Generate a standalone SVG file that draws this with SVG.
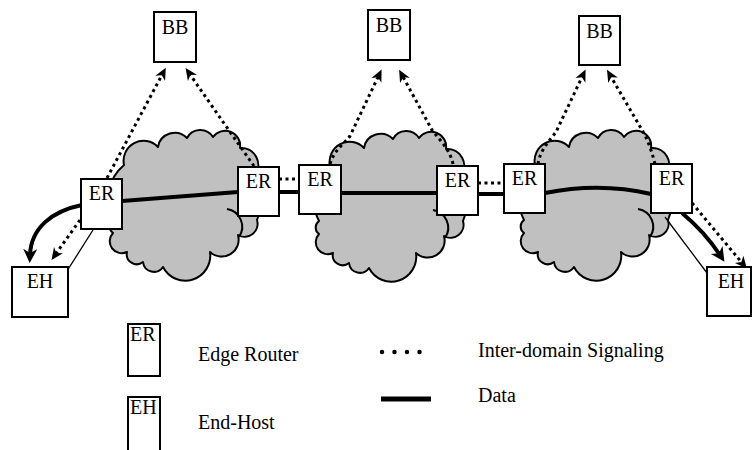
<svg xmlns="http://www.w3.org/2000/svg" width="752" height="450" viewBox="0 0 752 450">
<style>
.box{fill:#fff;stroke:#000;stroke-width:2}
.cloud{fill:#c0c0c0;stroke:#000;stroke-width:2;stroke-linejoin:round}
.inner{fill:none;stroke:#000;stroke-width:2}
.data{fill:none;stroke:#000;stroke-width:4}
.sig{fill:none;stroke:#000;stroke-width:3;stroke-dasharray:3 3.5}
.thin{fill:none;stroke:#000;stroke-width:1.3}
text{font-family:"Liberation Serif","Times New Roman",serif;font-size:20px;fill:#000}
.lbl{text-anchor:middle}
</style>
<defs>
<marker id="ah" markerUnits="userSpaceOnUse" viewBox="-13 -7 14 14" refX="-6" refY="0" markerWidth="14" markerHeight="14" orient="auto">
<path d="M0,0 L-12,-5.5 L-8.5,0 L-12,5.5 Z" fill="#000"/>
</marker>
<marker id="ahb" markerUnits="userSpaceOnUse" viewBox="-15 -8 16 16" refX="-8" refY="0" markerWidth="16" markerHeight="16" orient="auto">
<path d="M0,0 L-14,-7 L-10,0 L-14,7 Z" fill="#000"/>
</marker>
<g id="cloudShape">
<path class="cloud" d="M14,37 A20,20 0 0 1 48,19 A17,17 0 0 1 77,10 A15,15 0 0 1 103,9 A15,15 0 0 1 130,20 A17,17 0 0 1 145,47 A55,55 0 0 1 147,92 A13,13 0 0 1 128,107 A17,17 0 0 1 100,124 A25,25 0 0 1 53,139 A11,11 0 0 1 33,134 A10,10 0 0 1 17,124 A12,12 0 0 1 3,105 A8,8 0 0 1 3,92 A45,45 0 0 1 14,37 Z"/>
<path class="inner" d="M117,81 A18,18 0 0 1 129,109"/>
</g>
</defs>

<g id="clouds">
<use href="#cloudShape" x="110" y="128"/>
<use href="#cloudShape" x="316" y="129"/>
<use href="#cloudShape" x="521" y="128"/>
</g>

<g id="connectors">
<path class="data" d="M122,201 L238,192"/>
<path class="data" d="M279,192 L299,192"/>
<path class="data" d="M341,193 L437,193"/>
<path class="data" d="M478,194 L504,194"/>
<path class="data" d="M545,193 Q600,182 651,194"/>
<path class="sig" d="M279,179 L299,179"/>
<path class="sig" d="M478,183 L504,183"/>
<path class="sig" d="M107,178 L163,73" marker-end="url(#ah)"/>
<path class="sig" d="M254,166 Q225,125 189,73" marker-end="url(#ah)"/>
<path class="sig" d="M330,164 C334,150 344,144 350,136 L379,75" marker-end="url(#ah)"/>
<path class="sig" d="M453,164 C450,150 440,140 432,130 L402,75" marker-end="url(#ah)"/>
<path class="sig" d="M538,164 C540,150 550,140 556,132 L583,75" marker-end="url(#ah)"/>
<path class="sig" d="M655,164 C652,152 648,140 642,130 L610,75" marker-end="url(#ah)"/>
<path class="sig" d="M80,220 L55,255" marker-end="url(#ah)"/>
<path class="sig" d="M692,203 L743,264" marker-end="url(#ah)"/>
<path class="data" d="M82,205 C52,211 31,228 30,255" marker-end="url(#ahb)"/>
<path class="data" d="M682,213 C700,228 712,243 720,255" marker-end="url(#ahb)"/>
<path class="thin" d="M93,230 L67,271"/>
<path class="thin" d="M665,217 L707,273"/>
</g>

<g id="BB1"><rect class="box" x="154" y="12" width="42" height="50"/><text class="lbl" x="175" y="34">BB</text></g>
<g id="BB2"><rect class="box" x="368" y="10" width="42" height="50"/><text class="lbl" x="389" y="32">BB</text></g>
<g id="BB3"><rect class="box" x="579" y="16" width="41" height="49"/><text class="lbl" x="599.5" y="38">BB</text></g>
<g id="ER1"><rect class="box" x="81" y="179" width="41" height="50"/><text class="lbl" x="101.5" y="200">ER</text></g>
<g id="ER2"><rect class="box" x="238" y="167" width="41" height="49"/><text class="lbl" x="258.5" y="188">ER</text></g>
<g id="ER3"><rect class="box" x="299" y="165" width="42" height="49"/><text class="lbl" x="320" y="186">ER</text></g>
<g id="ER4"><rect class="box" x="437" y="166" width="41" height="49"/><text class="lbl" x="457.5" y="187">ER</text></g>
<g id="ER5"><rect class="box" x="504" y="164" width="41" height="49"/><text class="lbl" x="524.5" y="185">ER</text></g>
<g id="ER6"><rect class="box" x="651" y="164" width="41" height="49"/><text class="lbl" x="671.5" y="185">ER</text></g>
<g id="EH1"><rect class="box" x="12" y="267" width="56" height="50"/><text class="lbl" x="40" y="288">EH</text></g>
<g id="EH2"><rect class="box" x="707" y="267" width="44" height="49"/><text class="lbl" x="731" y="288">EH</text></g>

<g id="legend">
<rect class="box" x="128" y="324" width="32" height="52"/><text x="130" y="341">ER</text>
<text x="198" y="361">Edge Router</text>
<rect class="box" x="128" y="397" width="32" height="60"/><text x="130" y="414">EH</text>
<text x="198" y="429">End-Host</text>
<path d="M382,352 H432" fill="none" stroke="#000" stroke-width="4.5" stroke-linecap="round" stroke-dasharray="0 12.5"/>
<text x="478" y="357">Inter-domain Signaling</text>
<path d="M381,399 H431" fill="none" stroke="#000" stroke-width="5"/>
<text x="478" y="402">Data</text>
</g>
</svg>
